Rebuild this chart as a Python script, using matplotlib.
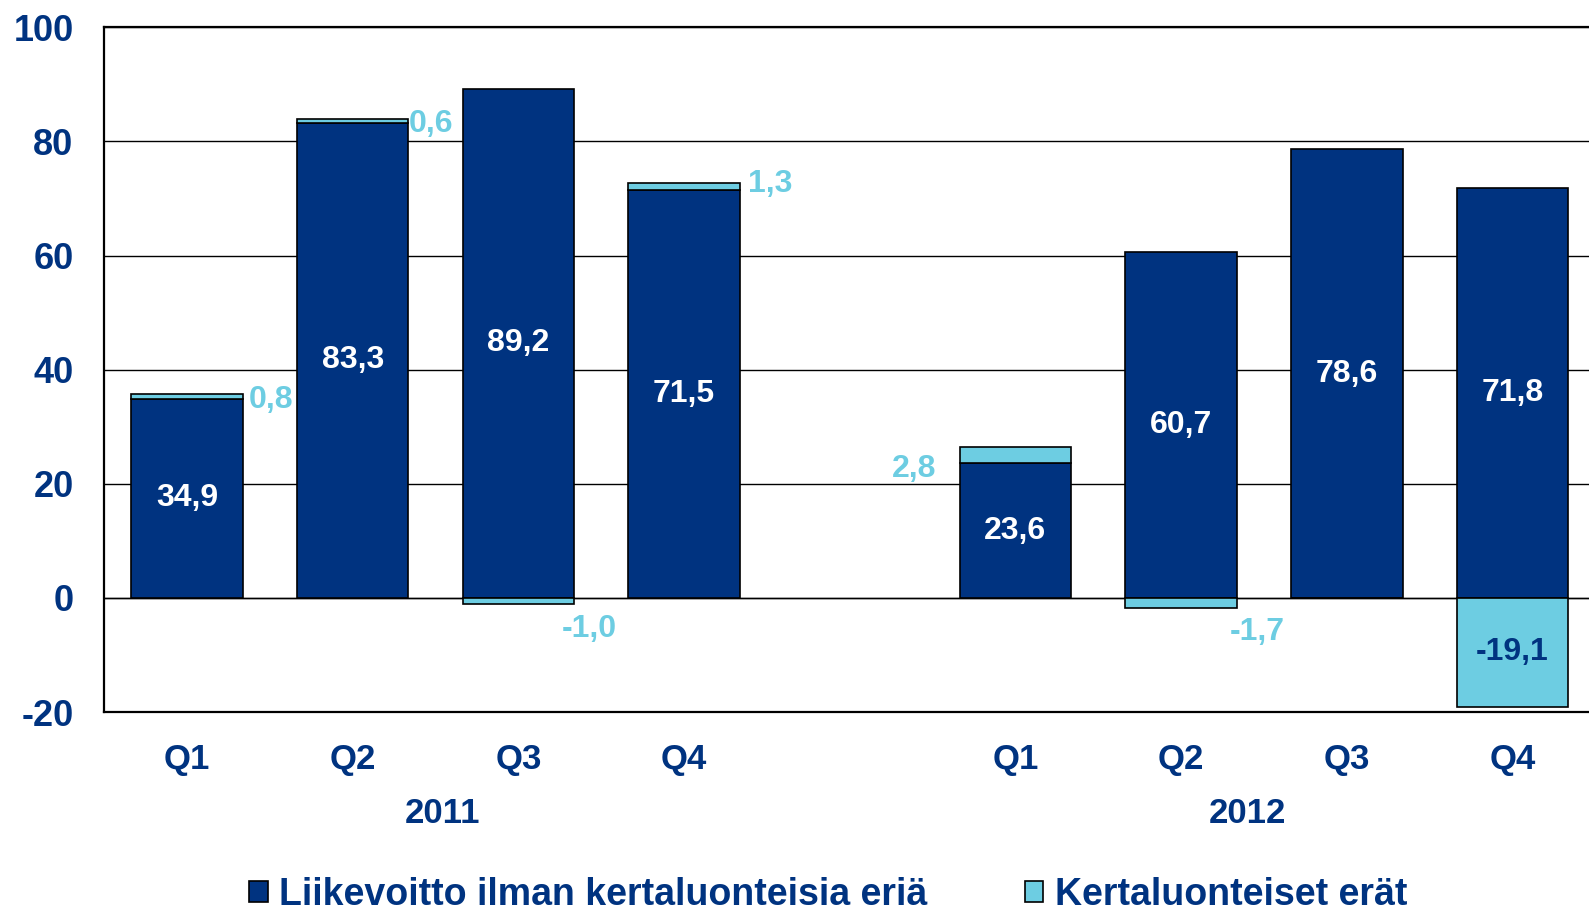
import numpy as np
import matplotlib
matplotlib.use("Agg")
import matplotlib.pyplot as plt
from matplotlib.transforms import blended_transform_factory

# data (EUR million), empty slot between the years
quarters = ["Q1", "Q2", "Q3", "Q4", "", "Q1", "Q2", "Q3", "Q4"]
years = ["2011", "2012"]
year_slots = [[0, 1, 2, 3], [5, 6, 7, 8]]
liikevoitto = [34.9, 83.3, 89.2, 71.5, np.nan, 23.6, 60.7, 78.6, 71.8]
kertaluonteiset = [0.8, 0.6, -1.0, 1.3, np.nan, 2.8, -1.7, 0.0, -19.1]
series_names = ["Liikevoitto ilman kertaluonteisia eriä", "Kertaluonteiset erät"]

# manual label placement for the small items (x in slots, y in value units)
light_dx = [0.51, 0.47, 0.43, 0.52, 0, -0.61, 0.46, 0, 0]
light_dy = [-1.1, -0.8, -4.5, -0.3, 0, -3.8, -4.2, 0, 0]
year_dx = [0.04, -0.1]

DARK = "#003380"
LIGHT = "#6DCDE2"
FONT = "Liberation Sans"

plt.rcParams["font.family"] = [FONT, "DejaVu Sans"]
plt.rcParams["font.weight"] = "bold"
plt.rcParams["axes.unicode_minus"] = False

fig = plt.figure(figsize=(15.89, 9.11), dpi=100)
ax = fig.add_axes([0.0655, 0.2184, 0.9385, 0.7516])

x = np.arange(len(quarters))
dark = np.array(liikevoitto)
light = np.array(kertaluonteiset)
light_bottom = np.where(light > 0, dark, 0)

w = 0.673
ax.bar(x, dark, w, color=DARK, edgecolor="black", linewidth=1.2,
       label=series_names[0], zorder=3)
ax.bar(x, light, w, bottom=light_bottom, color=LIGHT, edgecolor="black",
       linewidth=1.2, label=series_names[1], zorder=3)

ax.set_xlim(-0.5, 8.5)
ax.set_ylim(-20, 100)
ax.set_yticks(np.arange(-20, 101, 20))
ax.yaxis.grid(True, color="black", linewidth=1.0, zorder=1)
ax.axhline(0, color="black", linewidth=1.0, zorder=2)

ax.tick_params(axis="y", length=0, pad=22, labelsize=26, labelcolor=DARK)
ax.set_xticks(x)
ax.set_xticklabels(quarters)
ax.tick_params(axis="x", length=0, pad=22, labelsize=25, labelcolor=DARK)
for lab in ax.get_xticklabels() + ax.get_yticklabels():
    lab.set_fontweight("bold")

for side in ["left", "top", "bottom"]:
    ax.spines[side].set_linewidth(1.6)
    ax.spines[side].set_color("black")
ax.spines["right"].set_visible(False)

# value labels
for i in x:
    if np.isnan(dark[i]):
        continue
    ax.text(i, dark[i] / 2, f"{dark[i]:.1f}".replace(".", ","), ha="center",
            va="center", color="white", fontsize=23, fontweight="bold", zorder=4)
    v = light[i]
    if v == 0:
        continue
    txt = f"{v:.1f}".replace(".", ",")
    if abs(v) > 10:
        ax.text(i, light_bottom[i] + v / 2, txt, ha="center", va="center",
                color=DARK, fontsize=23, fontweight="bold", zorder=4)
    else:
        anchor = light_bottom[i] + v if v > 0 else v
        ax.text(i + light_dx[i], anchor + light_dy[i], txt, ha="center",
                va="center", color=LIGHT, fontsize=23, fontweight="bold", zorder=4)

# year labels under the quarters
trans = blended_transform_factory(ax.transData, ax.transAxes)
for yr, slots, dx in zip(years, year_slots, year_dx):
    ax.text(np.mean(slots) + dx, -0.148, yr, transform=trans, ha="center",
            va="center", color=DARK, fontsize=25, fontweight="bold")

leg = fig.legend(loc="center", bbox_to_anchor=(0.521, 0.0176), ncol=2,
                 frameon=False, fontsize=27, handlelength=0.5, handleheight=0.5,
                 handletextpad=0.3, columnspacing=2.6)
for t in leg.get_texts():
    t.set_color(DARK)
    t.set_fontweight("bold")

fig.savefig("out.png", dpi=100)
